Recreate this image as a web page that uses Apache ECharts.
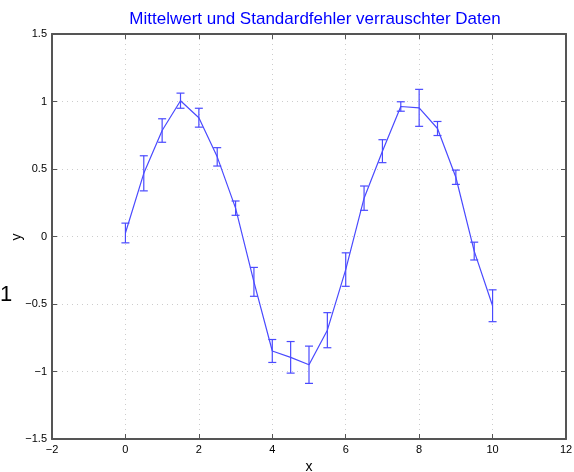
<!DOCTYPE html>
<html><head><meta charset="utf-8">
<script src="https://cdn.jsdelivr.net/npm/echarts@6/dist/echarts.min.js"></script>
<style>html,body{margin:0;padding:0;background:#fff}#c{width:574px;height:472px}</style>
</head><body><div id="c"></div>
<script>
var xValues = [0,0.5,1,1.5,2,2.5,3,3.5,4,4.5,5,5.5,6,6.5,7,7.5,8,8.5,9,9.5,10];
var meanValues = [0.026,0.468,0.785,1.006,0.88,0.59,0.21,-0.336,-0.848,-0.895,-0.95,-0.694,-0.245,0.284,0.632,0.963,0.953,0.8,0.439,-0.108,-0.513];
var errValues = [0.073,0.13,0.087,0.056,0.07,0.068,0.053,0.107,0.085,0.117,0.138,0.13,0.124,0.09,0.085,0.035,0.137,0.052,0.053,0.066,0.118];
var xTicks = [-2,0,2,4,6,8,10,12];
var yTicks = [-1.5,-1,-0.5,0,0.5,1,1.5];
var titleText = 'Mittelwert und Standardfehler verrauschter Daten';

function fmt(v){ return String(v).replace('-', '\u2212'); }
var lineData = xValues.map(function(x,i){return [x, meanValues[i]];});
var errData = xValues.map(function(x,i){return [x, meanValues[i]-errValues[i], meanValues[i]+errValues[i]];});
var col = '#4a4aff';
var font = 'Liberation Sans, Arial, sans-serif';
var axisCommon = {
  type:'value',
  axisLine:{show:true, onZero:false, lineStyle:{color:'#555', width:2}},
  axisTick:{show:true, inside:true, length:5, lineStyle:{color:'#555'}},
  splitLine:{show:false}
};
var chart = echarts.init(document.getElementById('c'));
chart.setOption({
  animation:false,
  title:{text:titleText, left:310, top:6, textAlign:'center',
    textStyle:{color:'#0000ff', fontSize:17, fontWeight:'normal', fontFamily:font}},
  grid:{left:52, right:8, top:34, bottom:33, containLabel:false, outerBoundsMode:'none'},
  xAxis:[
    Object.assign({}, axisCommon, {min:-2, max:12, interval:2, position:'bottom',
      name:'x', nameLocation:'middle', nameGap:21, nameTextStyle:{color:'#000', fontSize:14, fontFamily:font},
      axisLabel:{color:'#000', fontSize:11, fontFamily:font, margin:5, formatter:fmt},
      splitLine:{show:true, lineStyle:{color:'#ccc', type:[1,4], width:1}}}),
    Object.assign({}, axisCommon, {min:-2, max:12, interval:2, position:'top', axisLabel:{show:false}})
  ],
  yAxis:[
    Object.assign({}, axisCommon, {min:-1.5, max:1.5, interval:0.5, position:'left',
      axisLabel:{color:'#000', fontSize:11, fontFamily:font, margin:5, formatter:fmt},
      splitLine:{show:true, lineStyle:{color:'#ccc', type:[1,4], width:1}}}),
    Object.assign({}, axisCommon, {min:-1.5, max:1.5, interval:0.5, position:'right', axisLabel:{show:false}})
  ],
  graphic:[
    {type:'text', left:0, top:284, style:{text:'1', fontSize:22, fill:'#000', fontFamily:font}},
    {type:'text', x:17, y:237, rotation:Math.PI/2,
      style:{text:'y', fontSize:14, fill:'#000', fontFamily:font, align:'center', verticalAlign:'middle'}}
  ],
  series:[
    {type:'line', data:lineData, symbol:'none', lineStyle:{color:col, width:1.2}},
    {type:'custom', data:errData, encode:{x:0, y:[1,2]},
      renderItem:function(params, api){
        var x = api.value(0);
        var lo = api.coord([x, api.value(1)]);
        var hi = api.coord([x, api.value(2)]);
        var w = 4;
        var st = {stroke:col, lineWidth:1.2};
        return {type:'group', children:[
          {type:'line', shape:{x1:lo[0], y1:lo[1], x2:hi[0], y2:hi[1]}, style:st},
          {type:'line', shape:{x1:lo[0]-w, y1:lo[1], x2:lo[0]+w, y2:lo[1]}, style:st},
          {type:'line', shape:{x1:hi[0]-w, y1:hi[1], x2:hi[0]+w, y2:hi[1]}, style:st}
        ]};
      }}
  ]
});
</script></body></html>
